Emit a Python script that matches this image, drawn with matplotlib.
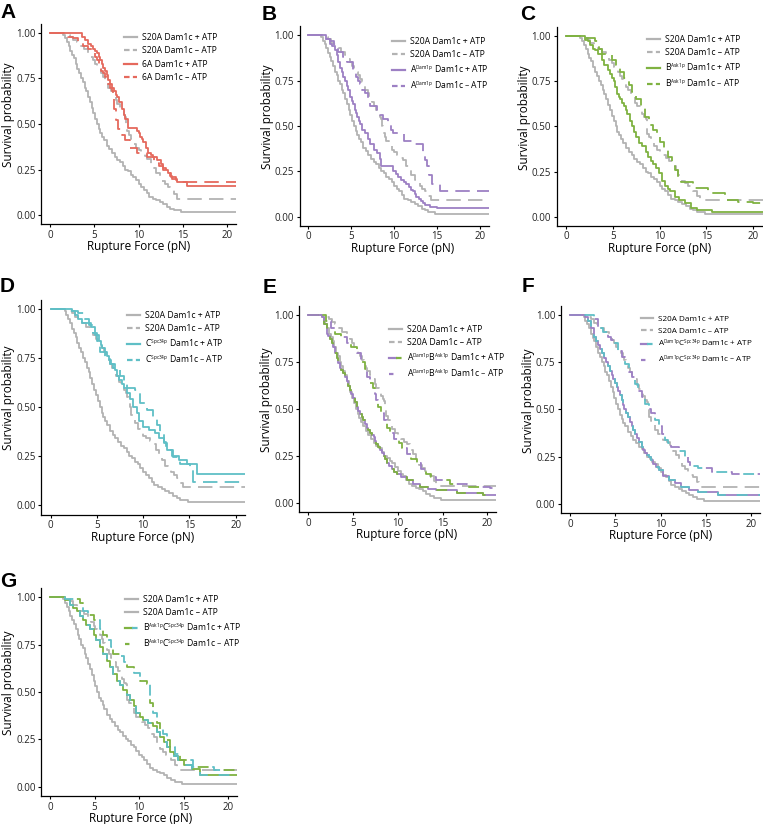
import matplotlib
matplotlib.use('Agg')
import matplotlib.pyplot as plt
import matplotlib._mathtext as mathtext_internals
from matplotlib.lines import Line2D
from matplotlib.legend_handler import HandlerTuple

plt.rcParams['font.family'] = ['Open Sans', 'DejaVu Sans']
plt.rcParams['mathtext.default'] = 'regular'
# the superscripts in the legends are tiny in the original figure
mathtext_internals.SHRINK_FACTOR = 0.55

# ---- survival curves (force in pN, survival fraction) ----
s20a_plus_x = [0, 1.5, 1.7, 1.9, 2.1, 2.3, 2.5, 2.7, 2.9, 3.1, 3.3, 3.5, 3.7, 3.9, 4.1, 4.3, 4.5, 4.7, 4.9, 5.1,
               5.3, 5.5, 5.7, 5.9, 6.1, 6.4, 6.7, 7.0, 7.3, 7.6, 7.9, 8.2, 8.5, 8.8, 9.1, 9.4, 9.7, 10.0, 10.3,
               10.6, 10.9, 11.2, 11.6, 12.0, 12.4, 12.8, 13.2, 13.6, 14.0, 14.8, 21]
s20a_plus_y = [1.0, 0.99, 0.97, 0.95, 0.93, 0.90, 0.88, 0.86, 0.83, 0.80, 0.78, 0.75, 0.73, 0.70, 0.68, 0.65,
               0.62, 0.59, 0.56, 0.53, 0.50, 0.47, 0.45, 0.43, 0.41, 0.38, 0.36, 0.34, 0.32, 0.30, 0.29, 0.27,
               0.25, 0.24, 0.22, 0.21, 0.19, 0.17, 0.155, 0.14, 0.12, 0.10, 0.09, 0.08, 0.07, 0.06, 0.045, 0.035,
               0.027, 0.015, 0.015]
s20a_minus_x = [0, 1.8, 2.3, 2.6, 3.0, 3.4, 3.8, 4.3, 4.6, 4.9, 5.1, 5.3, 5.6, 5.8, 6.0, 6.2, 6.4, 6.6, 6.9, 7.1,
                7.4, 7.6, 7.9, 8.1, 8.3, 8.5, 8.6, 8.7, 8.9, 9.1, 9.4, 9.7, 10.0, 10.3, 10.7, 11.0, 11.4, 11.7,
                12.0, 12.4, 12.7, 13.0, 13.3, 13.6, 14.0, 14.3, 21]
s20a_minus_y = [1.0, 0.99, 0.98, 0.96, 0.95, 0.93, 0.91, 0.89, 0.87, 0.85, 0.83, 0.81, 0.80, 0.78, 0.76, 0.74,
                0.72, 0.70, 0.68, 0.66, 0.63, 0.61, 0.59, 0.57, 0.55, 0.54, 0.50, 0.46, 0.44, 0.42, 0.39, 0.37,
                0.355, 0.34, 0.325, 0.31, 0.28, 0.26, 0.23, 0.20, 0.185, 0.17, 0.155, 0.14, 0.115, 0.09, 0.09]

a6_plus_x = [0, 3.6, 4.0, 4.3, 4.6, 4.8, 5.1, 5.3, 5.5, 5.7, 5.9, 6.0, 6.2, 6.4, 6.6, 6.8, 7.0, 7.2, 7.4, 7.6,
             7.8, 8.1, 8.3, 8.5, 8.8, 9.8, 10.0, 10.2, 10.4, 10.5, 10.8, 11.1, 11.4, 11.6, 12.1, 12.5, 12.8,
             13.1, 13.3, 13.6, 13.8, 14.3, 15.5, 21]
a6_plus_y = [1.0, 0.98, 0.96, 0.94, 0.93, 0.91, 0.90, 0.89, 0.87, 0.85, 0.83, 0.81, 0.79, 0.77, 0.74, 0.72,
             0.70, 0.68, 0.66, 0.65, 0.62, 0.58, 0.55, 0.53, 0.48, 0.46, 0.45, 0.43, 0.42, 0.40, 0.37, 0.34,
             0.33, 0.32, 0.30, 0.28, 0.26, 0.245, 0.23, 0.215, 0.20, 0.18, 0.16, 0.16]
a6_minus_x = [0, 2.0, 2.6, 3.2, 3.7, 4.3, 4.9, 5.1, 5.3, 5.5, 5.6, 5.8, 6.0, 6.2, 6.4, 6.6, 6.8, 7.0, 7.1, 7.2,
              7.4, 7.7, 8.1, 8.5, 9.0, 9.8, 11.0, 11.7, 12.3, 12.8, 13.2, 13.7, 14.2, 14.6, 21]
a6_minus_y = [1.0, 0.98, 0.97, 0.95, 0.93, 0.91, 0.89, 0.87, 0.85, 0.83, 0.81, 0.79, 0.78, 0.76, 0.74, 0.72,
              0.70, 0.68, 0.67, 0.58, 0.52, 0.47, 0.44, 0.41, 0.37, 0.34, 0.32, 0.285, 0.27, 0.25, 0.23, 0.21,
              0.195, 0.18, 0.18]

adam_plus_x = [0, 2.1, 2.5, 2.8, 3.1, 3.3, 3.5, 3.7, 3.9, 4.1, 4.3, 4.5, 4.6, 4.8, 4.9, 5.1, 5.2, 5.4, 5.6, 5.7,
               5.9, 6.0, 6.3, 6.6, 6.9, 7.2, 7.6, 8.0, 8.3, 8.5, 9.9, 10.2, 10.5, 10.8, 11.1, 11.4, 11.7, 12.0,
               12.2, 12.4, 12.6, 12.9, 13.1, 13.4, 13.6, 14.2, 15.0, 21]
adam_plus_y = [1.0, 0.98, 0.95, 0.94, 0.92, 0.89, 0.85, 0.82, 0.80, 0.77, 0.75, 0.72, 0.70, 0.68, 0.66, 0.64,
               0.62, 0.59, 0.57, 0.55, 0.53, 0.51, 0.48, 0.46, 0.43, 0.40, 0.37, 0.35, 0.32, 0.28, 0.25, 0.235,
               0.22, 0.205, 0.19, 0.18, 0.165, 0.15, 0.14, 0.125, 0.11, 0.095, 0.085, 0.075, 0.065, 0.055, 0.046,
               0.046]
adam_minus_x = [0, 2.1, 2.5, 3.0, 3.5, 4.0, 4.5, 5.2, 5.4, 5.6, 5.8, 6.0, 6.3, 6.6, 6.9, 7.2, 8.0, 8.4, 8.7, 9.3,
                9.6, 9.9, 11.1, 12.2, 13.4, 13.6, 13.8, 14.1, 14.4, 15.3, 21]
adam_minus_y = [1.0, 0.98, 0.97, 0.94, 0.91, 0.88, 0.85, 0.81, 0.79, 0.77, 0.75, 0.73, 0.70, 0.68, 0.64, 0.61,
                0.59, 0.56, 0.54, 0.51, 0.48, 0.46, 0.42, 0.40, 0.35, 0.31, 0.28, 0.23, 0.18, 0.14, 0.14]

bask_plus_x = [0, 2.0, 2.3, 2.6, 2.9, 3.1, 3.4, 3.8, 4.1, 4.5, 4.7, 4.9, 5.1, 5.2, 5.4, 5.5, 5.7, 5.8, 6.0, 6.2,
               6.4, 6.5, 6.8, 7.0, 7.3, 7.5, 7.8, 8.1, 8.5, 8.8, 9.1, 9.3, 9.6, 9.9, 10.2, 10.6, 10.9, 11.1, 11.6,
               12.1, 12.7, 13.3, 14.0, 15.6, 21]
bask_plus_y = [1.0, 0.98, 0.97, 0.95, 0.93, 0.92, 0.90, 0.87, 0.84, 0.81, 0.79, 0.77, 0.75, 0.72, 0.70, 0.68,
               0.66, 0.65, 0.63, 0.61, 0.59, 0.57, 0.53, 0.50, 0.47, 0.44, 0.41, 0.39, 0.36, 0.33, 0.31, 0.29,
               0.27, 0.24, 0.20, 0.17, 0.155, 0.14, 0.11, 0.09, 0.074, 0.05, 0.037, 0.028, 0.028]
bask_minus_x = [0, 2.0, 3.1, 3.5, 3.8, 4.9, 5.3, 5.8, 6.2, 6.7, 7.1, 7.5, 8.0, 8.4, 8.9, 9.3, 9.7, 10.0, 10.5,
                10.9, 11.3, 11.6, 12.0, 12.3, 13.6, 15.2, 17.0, 18.4, 20.0, 21]
bask_minus_y = [1.0, 0.99, 0.97, 0.93, 0.90, 0.87, 0.84, 0.80, 0.77, 0.73, 0.69, 0.65, 0.60, 0.55, 0.51, 0.48,
                0.44, 0.415, 0.37, 0.33, 0.29, 0.26, 0.22, 0.19, 0.16, 0.13, 0.09, 0.08, 0.074, 0.074]

cspc_plus_x = [0, 2.3, 2.6, 3.0, 3.4, 4.4, 4.8, 5.2, 5.4, 5.6, 5.9, 6.1, 6.3, 6.5, 6.7, 6.95, 7.2, 7.4, 7.7, 7.9,
               8.2, 8.6, 8.9, 9.3, 9.6, 10.0, 10.6, 11.3, 11.7, 12.2, 12.6, 13.1, 13.9, 14.7, 15.8, 21]
cspc_plus_y = [1.0, 0.99, 0.97, 0.95, 0.93, 0.91, 0.87, 0.84, 0.82, 0.80, 0.78, 0.76, 0.74, 0.72, 0.70, 0.69,
               0.66, 0.64, 0.62, 0.60, 0.57, 0.54, 0.50, 0.47, 0.43, 0.40, 0.385, 0.37, 0.34, 0.315, 0.28, 0.25,
               0.23, 0.21, 0.16, 0.16]
cspc_minus_x = [0, 2.3, 3.0, 3.6, 4.1, 4.6, 5.0, 5.3, 5.9, 6.4, 7.0, 7.5, 7.9, 8.2, 9.1, 9.7, 10.4, 11.1, 11.5,
                11.8, 12.2, 12.5, 13.2, 14.0, 15.1, 15.4, 21]
cspc_minus_y = [1.0, 0.99, 0.98, 0.95, 0.92, 0.88, 0.84, 0.78, 0.75, 0.72, 0.69, 0.66, 0.63, 0.60, 0.59, 0.52,
                0.485, 0.45, 0.41, 0.37, 0.32, 0.28, 0.245, 0.21, 0.18, 0.12, 0.12]

ab_plus_x = [0, 1.5, 1.8, 2.05, 2.2, 2.4, 2.6, 2.8, 3.0, 3.2, 3.35, 3.5, 3.7, 3.9, 4.1, 4.3, 4.45, 4.6, 4.8, 5.0,
             5.2, 5.4, 5.6, 5.8, 5.95, 6.1, 6.3, 6.5, 6.7, 6.9, 7.1, 7.3, 7.45, 7.6, 7.8, 8.0, 8.2, 8.4, 8.6, 8.75,
             9.0, 9.3, 9.6, 9.9, 10.4, 11.0, 11.7, 12.5, 13.4, 14.3, 16.6, 19.5, 21]
ab_plus_y = [1.0, 0.99, 0.95, 0.90, 0.89, 0.87, 0.85, 0.83, 0.80, 0.77, 0.745, 0.72, 0.705, 0.69, 0.67, 0.65,
             0.62, 0.60, 0.58, 0.56, 0.535, 0.51, 0.49, 0.47, 0.455, 0.44, 0.42, 0.40, 0.385, 0.37, 0.36, 0.35,
             0.33, 0.31, 0.295, 0.28, 0.265, 0.25, 0.23, 0.21, 0.195, 0.18, 0.165, 0.155, 0.135, 0.12, 0.10,
             0.085, 0.075, 0.067, 0.05, 0.04, 0.04]
ab_minus_x = [0, 2.0, 2.5, 3.0, 3.6, 4.3, 4.8, 5.4, 5.9, 6.3, 6.6, 6.9, 7.2, 7.4, 7.6, 7.8, 8.1, 8.4, 8.8, 9.1,
              9.6, 10.1, 10.5, 11.0, 11.5, 12.1, 12.6, 13.2, 13.7, 14.3, 15.8, 17.7, 20.3, 21]
ab_minus_y = [1.0, 0.97, 0.93, 0.90, 0.88, 0.85, 0.83, 0.80, 0.75, 0.71, 0.67, 0.64, 0.61, 0.58, 0.545, 0.51,
              0.475, 0.44, 0.40, 0.37, 0.34, 0.316, 0.29, 0.26, 0.235, 0.21, 0.18, 0.155, 0.135, 0.12, 0.10,
              0.085, 0.076, 0.076]

ac_plus_x = [0, 1.65, 2.0, 2.3, 2.6, 2.85, 3.1, 3.3, 3.5, 3.8, 4.0, 4.2, 4.4, 4.6, 4.8, 5.0, 5.15, 5.3, 5.5, 5.7,
             5.85, 6.0, 6.2, 6.4, 6.6, 6.8, 7.0, 7.2, 7.4, 7.6, 7.9, 8.1, 8.3, 8.5, 8.7, 9.0, 9.2, 9.5, 9.8,
             10.3, 10.9, 11.6, 12.3, 13.2, 14.2, 16.4, 21]
ac_plus_y = [1.0, 0.99, 0.97, 0.93, 0.885, 0.86, 0.84, 0.82, 0.80, 0.77, 0.75, 0.73, 0.705, 0.68, 0.66, 0.64,
             0.62, 0.60, 0.575, 0.55, 0.525, 0.50, 0.48, 0.46, 0.435, 0.41, 0.39, 0.37, 0.35, 0.33, 0.30, 0.285,
             0.27, 0.26, 0.25, 0.23, 0.21, 0.195, 0.18, 0.15, 0.127, 0.11, 0.09, 0.075, 0.065, 0.047, 0.047]
ac_minus_x = [0, 2.6, 3.1, 3.6, 4.2, 4.5, 4.8, 5.3, 5.7, 6.1, 6.5, 6.8, 7.2, 7.55, 7.9, 8.3, 8.7, 9.0, 9.4, 9.8,
              10.2, 10.5, 10.8, 11.2, 12.0, 12.7, 13.0, 13.3, 14.2, 15.7, 17.9, 21]
ac_minus_y = [1.0, 0.98, 0.93, 0.91, 0.885, 0.87, 0.85, 0.81, 0.78, 0.74, 0.70, 0.67, 0.635, 0.60, 0.565, 0.53,
              0.50, 0.48, 0.445, 0.41, 0.37, 0.34, 0.32, 0.30, 0.28, 0.25, 0.22, 0.20, 0.19, 0.17, 0.16, 0.16]

bc_plus_x = [0, 1.7, 2.2, 2.6, 3.0, 3.4, 3.7, 4.1, 4.5, 4.9, 5.2, 5.6, 6.0, 6.4, 6.7, 7.1, 7.5, 7.9, 8.2, 8.6,
             9.0, 9.4, 9.7, 10.1, 10.5, 11.0, 11.6, 12.0, 12.4, 12.8, 13.1, 13.5, 13.9, 14.4, 15.0, 16.0, 16.9, 21]
bc_plus_y = [1.0, 0.985, 0.96, 0.945, 0.93, 0.90, 0.88, 0.855, 0.83, 0.80, 0.775, 0.74, 0.70, 0.665, 0.63,
             0.595, 0.56, 0.535, 0.51, 0.485, 0.46, 0.425, 0.39, 0.37, 0.35, 0.335, 0.32, 0.29, 0.26, 0.235,
             0.21, 0.185, 0.16, 0.14, 0.115, 0.095, 0.06, 0.06]
bc_minus_x = [0, 1.7, 3.4, 3.7, 4.3, 4.9, 5.6, 6.0, 6.4, 6.8, 7.1, 7.9, 8.3, 8.6, 9.4, 10.1, 10.9, 11.2, 11.6,
              12.0, 12.4, 12.7, 13.1, 13.5, 14.0, 14.6, 16.1, 18.4, 21]
bc_minus_y = [1.0, 0.99, 0.97, 0.93, 0.905, 0.88, 0.83, 0.80, 0.775, 0.735, 0.70, 0.69, 0.66, 0.63, 0.60, 0.56,
              0.54, 0.44, 0.39, 0.335, 0.305, 0.28, 0.245, 0.21, 0.175, 0.14, 0.106, 0.088, 0.088]

x_ticks = [0, 5, 10, 15, 20]
y_ticks = [0.0, 0.25, 0.5, 0.75, 1.0]
y_ticklabels = ['0.00', '0.25', '0.50', '0.75', '1.00']

GRAY = '#b3b3b3'
RED = '#e5695d'
PURPLE = '#9d80c4'
GREEN = '#7fb241'
CYAN = '#5fbfc6'
LW = 1.3

W, H = 763, 824
fig = plt.figure(figsize=(W / 100, H / 100), dpi=100)

# letter, name, colours, +ATP curve, -ATP curve, axes box in px (l, t, r, b), legend (x, y, size) px,
# xlabel centre x, xlabel, panel letter position
panels = [
    ('A', '6A', [RED], (a6_plus_x, a6_plus_y), (a6_minus_x, a6_minus_y),
     (41.2, 23.9, 235.9, 224.1), (120, 29, 6.2), 139, 'Rupture Force (pN)', (0, 3)),
    ('B', 'A$^{Dam1p}$', [PURPLE], (adam_plus_x, adam_plus_y), (adam_minus_x, adam_minus_y),
     (299.7, 26.2, 488.6, 225.8), (388, 33, 6.2), 403, 'Rupture Force (pN)', (262, 5)),
    ('C', 'B$^{Ask1p}$', [GREEN], (bask_plus_x, bask_plus_y), (bask_minus_x, bask_minus_y),
     (556.6, 27.0, 762.7, 225.7), (643, 31, 6.2), 660, 'Rupture Force (pN)', (520, 5)),
    ('D', 'C$^{Spc34p}$', [CYAN], (cspc_plus_x, cspc_plus_y), (cspc_minus_x, cspc_minus_y),
     (41.4, 299.5, 245.0, 514.8), (123, 307, 6.2), 143, 'Rupture Force (pN)', (0, 277)),
    ('E', 'A$^{Dam1p}$B$^{Ask1p}$', [PURPLE, GREEN], (ab_plus_x, ab_plus_y), (ab_minus_x, ab_minus_y),
     (299.4, 305.6, 496.3, 512.0), (385, 321, 6.2), 407, 'Rupture force (pN)', (263, 278)),
    ('F', 'A$^{Dam1p}$C$^{Spc34p}$', [PURPLE, CYAN], (ac_plus_x, ac_plus_y), (ac_minus_x, ac_minus_y),
     (561.0, 305.6, 760.0, 513.3), (637, 311, 5.9), 661, 'Rupture Force (pN)', (522, 277)),
    ('G', 'B$^{Ask1p}$C$^{Spc34p}$', [GREEN, CYAN], (bc_plus_x, bc_plus_y), (bc_minus_x, bc_minus_y),
     (41.1, 587.8, 236.9, 796.2), (121, 591, 6.2), 141, 'Rupture Force (pN)', (0, 572)),
]


def draw_curve(ax, xs, ys, colors, dashed):
    if len(colors) == 1:
        ls = (0, (8, 4)) if dashed else '-'
        ax.step(xs, ys, where='post', color=colors[0], lw=LW, ls=ls)
    elif dashed:
        ax.step(xs, ys, where='post', color=colors[0], lw=LW, ls=(0, (6, 10)))
        ax.step(xs, ys, where='post', color=colors[1], lw=LW, ls=(8, (6, 10)))
    else:
        ax.step(xs, ys, where='post', color=colors[0], lw=LW, ls='-')
        ax.step(xs, ys, where='post', color=colors[1], lw=LW, ls=(0, (6, 6)))


def legend_handle(colors, dashed):
    if len(colors) == 1:
        ls = (0, (2.5, 1.5)) if dashed else '-'
        return Line2D([], [], color=colors[0], lw=LW + 0.3, ls=ls)
    if dashed:
        return (Line2D([], [], color=colors[0], lw=LW + 0.3, ls=(0, (2, 4))),
                Line2D([], [], color=colors[1], lw=LW + 0.3, ls=(3, (2, 4))))
    return (Line2D([], [], color=colors[0], lw=LW + 0.3, ls='-'),
            Line2D([], [], color=colors[1], lw=LW + 0.3, ls=(0, (2.5, 2.5))))


for letter, name, colors, plus, minus, box, leg, xl_cx, xlabel, lpos in panels:
    l, t, r, b = box
    ax = fig.add_axes([l / W, 1 - b / H, (r - l) / W, (b - t) / H])

    draw_curve(ax, s20a_plus_x, s20a_plus_y, [GRAY], False)
    draw_curve(ax, s20a_minus_x, s20a_minus_y, [GRAY], True)
    draw_curve(ax, plus[0], plus[1], colors, False)
    draw_curve(ax, minus[0], minus[1], colors, True)

    ax.set_xlim(-1, 21)
    ax.set_ylim(-0.05, 1.05)
    ax.set_xticks(x_ticks)
    ax.set_yticks(y_ticks)
    ax.set_yticklabels(y_ticklabels)
    ax.tick_params(length=2.5, width=0.8, pad=1.5, labelsize=7, labelcolor='#222222')
    for side in ['top', 'right']:
        ax.spines[side].set_visible(False)
    for side in ['left', 'bottom']:
        ax.spines[side].set_linewidth(0.9)

    ax.set_xlabel(xlabel, fontsize=8.5)
    ax.xaxis.set_label_coords((xl_cx - l) / (r - l), -16 / (b - t))
    ax.set_ylabel('Survival probability', fontsize=8.5)
    ax.yaxis.set_label_coords(-26 / (r - l), 0.5 + 9 / (b - t))

    handles = [legend_handle([GRAY], False),
               legend_handle([GRAY], letter != 'G'),
               legend_handle(colors, False),
               legend_handle(colors, True)]
    labels = ['S20A Dam1c + ATP', 'S20A Dam1c \u2013 ATP',
              name + ' Dam1c + ATP', name + ' Dam1c \u2013 ATP']
    ax.legend(handles, labels, loc='upper left', bbox_to_anchor=(leg[0] / W, 1 - leg[1] / H),
              bbox_transform=fig.transFigure, frameon=False, fontsize=leg[2], borderpad=0,
              handlelength=1.5, handletextpad=0.6, labelspacing=0.48,
              handler_map={tuple: HandlerTuple(ndivide=None)})

    fig.text(lpos[0] / W, 1 - lpos[1] / H, letter, fontsize=15, fontweight='bold',
             family='Liberation Sans', ha='left', va='top')

fig.savefig('out.png', dpi=100)
